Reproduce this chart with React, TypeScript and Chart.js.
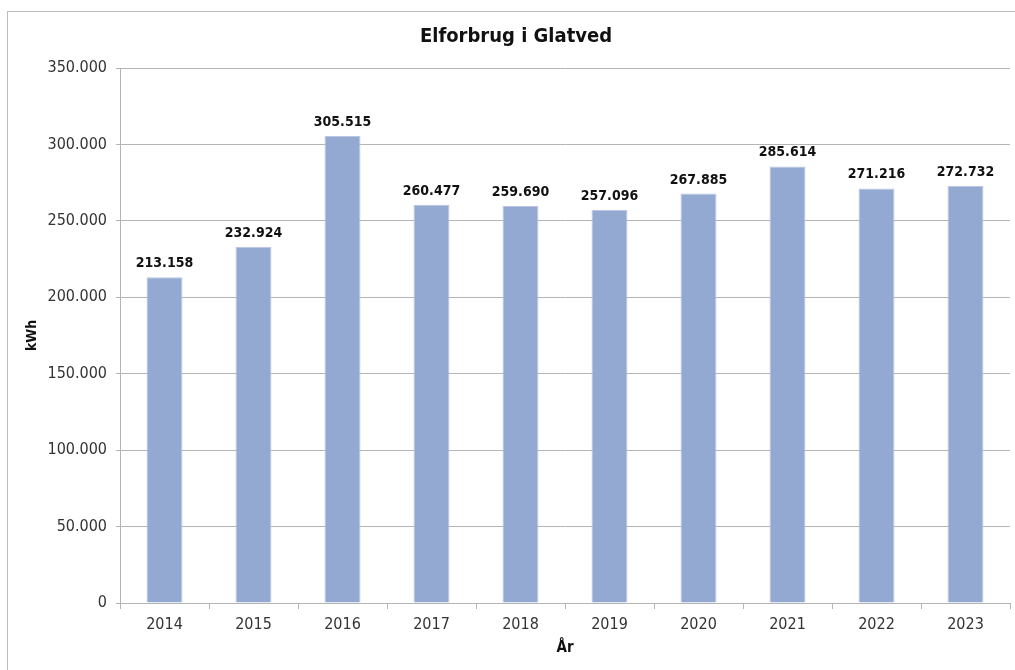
import React, { useEffect, useRef } from "react";
import { Chart, registerables } from "chart.js";

Chart.register(...registerables);

const titleText = "Elforbrug i Glatved";
const yAxisTitle = "kWh";
const xAxisTitle = "År";
const years = ["2014", "2015", "2016", "2017", "2018", "2019", "2020", "2021", "2022", "2023"];
const consumption = [213158, 232924, 305515, 260477, 259690, 257096, 267885, 285614, 271216, 272732];
const yMax = 350000;
const yStep = 50000;

const FONT = "'DejaVu Sans Condensed', 'DejaVu Sans', sans-serif";
const GRID = "#B4B4B4";

function fmt(v: number): string {
  return String(Math.round(v)).replace(/\B(?=(\d{3})+(?!\d))/g, ".");
}

const frameAndLabels = {
  id: "frameAndLabels",
  beforeDraw(chart: any) {
    const ctx = chart.ctx;
    ctx.save();
    ctx.strokeStyle = "#BDBDBD";
    ctx.lineWidth = 1;
    ctx.strokeRect(7.5, 11.5, 1200, 900);
    ctx.restore();
  },
  afterDatasetsDraw(chart: any) {
    const ctx = chart.ctx;
    const meta = chart.getDatasetMeta(0);
    const data = chart.data.datasets[0].data as number[];
    ctx.save();
    ctx.font = `bold 14px ${FONT}`;
    ctx.fillStyle = "#111111";
    ctx.textAlign = "center";
    ctx.textBaseline = "alphabetic";
    meta.data.forEach((bar: any, i: number) => {
      ctx.fillText(fmt(data[i]), bar.x, bar.y - 10);
    });
    ctx.restore();
  },
};

export default function App() {
  const ref = useRef<HTMLCanvasElement>(null);

  useEffect(() => {
    if (!ref.current) return;
    const chart = new Chart(ref.current, {
      type: "bar",
      data: {
        labels: years,
        datasets: [
          {
            data: consumption,
            backgroundColor: "#94A9D1",
            borderColor: "#B9C7E3",
            borderWidth: 1,
            categoryPercentage: 1,
            barPercentage: 0.404,
          },
        ],
      },
      options: {
        responsive: false,
        animation: false,
        devicePixelRatio: 1,
        layout: { padding: { top: 0, right: 5, bottom: 0, left: 22 } },
        plugins: {
          legend: { display: false },
          tooltip: { enabled: false },
          title: {
            display: true,
            text: titleText,
            color: "#111111",
            font: { family: FONT, size: 20, weight: "bold" },
            padding: { top: 25, bottom: 19 },
          },
        },
        scales: {
          x: {
            grid: {
              display: true,
              drawOnChartArea: false,
              offset: true,
              color: GRID,
              tickLength: 6,
            },
            border: { display: true, color: GRID },
            ticks: {
              color: "#333333",
              font: { family: FONT, size: 16 },
              padding: 6,
              maxRotation: 0,
            },
            title: {
              display: true,
              text: xAxisTitle,
              color: "#111111",
              font: { family: FONT, size: 15, weight: "bold" },
              padding: { top: 0, bottom: 13 },
            },
            afterFit(scale: any) {
              scale.height = 67;
            },
          },
          y: {
            min: 0,
            max: yMax,
            ticks: {
              stepSize: yStep,
              color: "#333333",
              font: { family: FONT, size: 16 },
              padding: 9,
              callback: (v: any) => fmt(Number(v)),
            },
            grid: { color: GRID, tickLength: 4 },
            border: { display: true, color: GRID },
            title: {
              display: true,
              text: yAxisTitle,
              color: "#111111",
              font: { family: FONT, size: 14, weight: "bold" },
              padding: { top: 2, bottom: 0 },
            },
            afterFit(scale: any) {
              scale.width = 98;
            },
          },
        },
      },
      plugins: [frameAndLabels],
    });
    return () => chart.destroy();
  }, []);

  return (
    <div style={{ position: "absolute", left: 0, top: 0, width: 1015, height: 670, background: "#fff" }}>
      <canvas ref={ref} width={1015} height={670} style={{ display: "block" }} />
    </div>
  );
}
